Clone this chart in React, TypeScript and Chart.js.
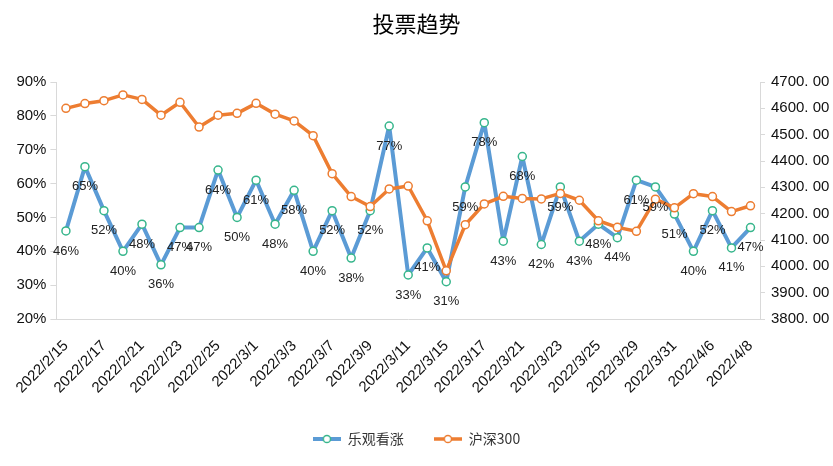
import React, { useEffect, useRef } from "react";
import { Chart, registerables } from "chart.js";

Chart.register(...registerables);

const dates = [
  "2022/2/15", "2022/2/16", "2022/2/17", "2022/2/18", "2022/2/21", "2022/2/22", "2022/2/23", "2022/2/24",
  "2022/2/25", "2022/2/28", "2022/3/1", "2022/3/2", "2022/3/3", "2022/3/4", "2022/3/7", "2022/3/8",
  "2022/3/9", "2022/3/10", "2022/3/11", "2022/3/14", "2022/3/15", "2022/3/16", "2022/3/17", "2022/3/18",
  "2022/3/21", "2022/3/22", "2022/3/23", "2022/3/24", "2022/3/25", "2022/3/28", "2022/3/29", "2022/3/30",
  "2022/3/31", "2022/4/1", "2022/4/6", "2022/4/7", "2022/4/8",
];

const bullish = [
  46, 65, 52, 40, 48, 36, 47, 47, 64, 50, 61, 48, 58, 40, 52, 38, 52, 77, 33, 41, 31, 59, 78, 43,
  68, 42, 59, 43, 48, 44, 61, 59, 51, 40, 52, 41, 47,
];

const hs300 = [
  4600, 4618, 4629, 4651, 4634, 4574, 4623, 4529, 4574, 4581, 4619, 4578, 4552, 4496, 4352, 4265,
  4227, 4294, 4305, 4173, 3983, 4158, 4237, 4266, 4258, 4256, 4277, 4251, 4173, 4148, 4133, 4255,
  4222, 4276, 4265, 4208, 4230,
];

const seriesNames = ["乐观看涨", "沪深300"];
const titleText = "投票趋势";

const BLUE = "#5B9BD5";
const TEAL = "#37B68C";
const ORANGE = "#ED7D31";
const NUM_FONT = "'Liberation Sans Narrow', 'Liberation Sans', sans-serif";
const CJK_FONT = "'Noto Sans CJK SC', sans-serif";

function makeIcon(lineColor: string, ringColor: string, lw: number) {
  const c = document.createElement("canvas");
  c.width = 28;
  c.height = 10;
  const g = c.getContext("2d")!;
  g.strokeStyle = lineColor;
  g.lineWidth = lw;
  g.beginPath();
  g.moveTo(0, 5);
  g.lineTo(28, 5);
  g.stroke();
  g.beginPath();
  g.arc(14, 5, 3.6, 0, Math.PI * 2);
  g.fillStyle = "#fff";
  g.fill();
  g.lineWidth = 1.5;
  g.strokeStyle = ringColor;
  g.stroke();
  return c;
}

export default function App() {
  const ref = useRef<HTMLCanvasElement | null>(null);

  useEffect(() => {
    document.body.style.margin = "0";
    const icons = [makeIcon(BLUE, TEAL, 4), makeIcon(ORANGE, ORANGE, 3.5)];

    const labelPlugin = {
      id: "pctLabels",
      afterDatasetsDraw(chart: any) {
        const meta = chart.getDatasetMeta(0);
        const ctx = chart.ctx;
        ctx.save();
        ctx.font = `13px ${NUM_FONT}`;
        ctx.fillStyle = "#222";
        ctx.textAlign = "center";
        ctx.textBaseline = "middle";
        meta.data.forEach((pt: any, i: number) => {
          ctx.fillText(bullish[i] + "%", pt.x, pt.y + 20);
        });
        ctx.restore();
      },
    };

    const chart = new Chart(ref.current!, {
      type: "line",
      data: {
        labels: dates,
        datasets: [
          {
            label: seriesNames[0],
            data: bullish,
            yAxisID: "y",
            borderColor: BLUE,
            borderWidth: 4,
            borderJoinStyle: "round",
            borderCapStyle: "round",
            pointRadius: 4,
            pointBorderWidth: 1.5,
            pointBackgroundColor: "#fff",
            pointBorderColor: TEAL,
            tension: 0,
            order: 2,
          },
          {
            label: seriesNames[1],
            data: hs300,
            yAxisID: "y1",
            borderColor: ORANGE,
            borderWidth: 3.5,
            borderJoinStyle: "round",
            borderCapStyle: "round",
            pointRadius: 4,
            pointBorderWidth: 1.5,
            pointBackgroundColor: "#fff",
            pointBorderColor: ORANGE,
            tension: 0,
            order: 1,
          },
        ],
      },
      options: {
        responsive: false,
        animation: false,
        layout: { padding: { left: 0, right: 0, top: 0, bottom: 10 } },
        plugins: {
          tooltip: { enabled: false },
          title: {
            display: true,
            text: titleText,
            color: "#000",
            font: { family: CJK_FONT, size: 22, weight: "normal" },
            padding: { top: 10, bottom: 45.6 },
          },
          legend: {
            display: true,
            position: "bottom",
            labels: {
              usePointStyle: true,
              pointStyleWidth: 28,
              padding: 30,
              color: "#333",
              font: { family: CJK_FONT, size: 14 },
              generateLabels: (ch: any) =>
                ch.data.datasets.map((ds: any, i: number) => ({
                  text: ds.label,
                  fillStyle: "#fff",
                  strokeStyle: ds.borderColor,
                  lineWidth: 0,
                  pointStyle: icons[i],
                  hidden: false,
                  datasetIndex: i,
                  fontColor: "#333",
                })),
            },
          },
        },
        scales: {
          x: {
            offset: true,
            grid: { display: false, drawTicks: false },
            border: { display: true, color: "#d9d9d9" },
            ticks: {
              autoSkip: false,
              minRotation: 45,
              maxRotation: 45,
              padding: 18,
              color: "#111",
              font: { family: NUM_FONT, size: 15 },
              callback: (_v: any, i: number) => (i % 2 === 0 ? dates[i] : ""),
            },
            afterFit: (s: any) => {
              s.height = 83;
            },
          },
          y: {
            position: "left",
            min: 20,
            max: 90,
            grid: { drawOnChartArea: false, drawTicks: true, tickLength: 6, color: "#d9d9d9" },
            border: { display: true, color: "#d9d9d9" },
            ticks: {
              stepSize: 10,
              padding: 4,
              color: "#111",
              font: { family: NUM_FONT, size: 15 },
              callback: (v: any) => v + "%",
            },
            afterFit: (s: any) => {
              s.width = 55;
            },
          },
          y1: {
            position: "right",
            min: 3800,
            max: 4700,
            grid: { drawOnChartArea: false, drawTicks: true, tickLength: 5, color: "#d9d9d9" },
            border: { display: true, color: "#d9d9d9" },
            ticks: {
              stepSize: 100,
              padding: 6,
              color: "#111",
              font: { family: NUM_FONT, size: 15 },
              callback: (v: any) => Number(v).toFixed(2).replace(".", ". "),
            },
            afterFit: (s: any) => {
              s.width = 73;
            },
          },
        },
      },
      plugins: [labelPlugin],
    } as any);

    return () => chart.destroy();
  }, []);

  return (
    <div style={{ width: 833, height: 466, background: "#fff" }}>
      <canvas ref={ref} width={833} height={466} style={{ display: "block" }} />
    </div>
  );
}
